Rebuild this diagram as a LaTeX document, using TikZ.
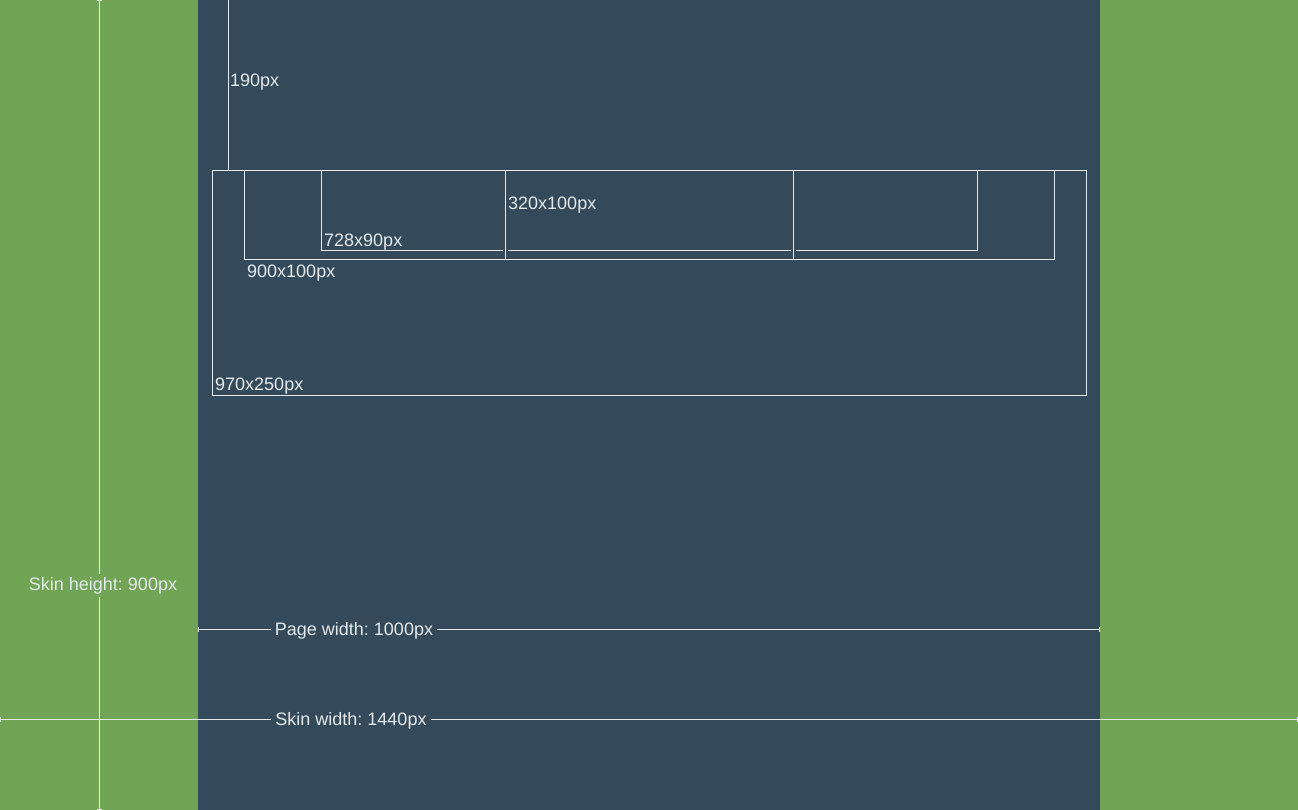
\documentclass[tikz,border=0pt]{standalone}
\usepackage{fontspec}
\setmainfont{Liberation Sans}
\usetikzlibrary{arrows.meta}
\frenchspacing
\definecolor{skin}{RGB}{113,164,84}
\definecolor{page}{RGB}{52,73,89}
\definecolor{ln}{RGB}{228,234,236}
\tikzset{
  guide/.style={draw=ln, line width=1pt},
  dim/.style={guide, {Bar[width=5pt,line width=1pt]}-{Bar[width=5pt,line width=1pt]}},
  dimend/.style={guide, -{Bar[width=5pt,line width=1pt]}},
  lbl/.style={text=ln, font=\fontsize{18}{21}\selectfont, inner sep=0pt, anchor=west},
  dimlbl/.style={text=ln, font=\fontsize{18}{21}\selectfont\frenchspacing, inner xsep=4pt, inner ysep=3pt}
}
\begin{document}
\begin{tikzpicture}[x=1pt,y=-1pt]
\useasboundingbox (0,0) rectangle (1298,810);
\fill[skin] (0,0) rectangle (1298,810);
\fill[page] (198,0) rectangle (1100,810);
% boxes
\draw[guide] (212,171) rectangle (1086,395);
\draw[guide] (244,171) rectangle (1054,260);
\draw[guide] (321,171) rectangle (977,251);
\draw[page, line width=5pt] (505,172) -- (505,259) (793,172) -- (793,259);
\draw[guide] (505,171) rectangle (793,260);
% labels
\node[lbl] (l970) at (215,386) {970x250px};
\node[lbl] (l900) at (247,273) {900x100px};
\node[lbl] (l728) at (324,242) {728x90px};
\node[lbl] (l320) at (508,205) {320x100px};
% 190px
\coordinate (t0) at (228,0);
\coordinate (t1) at (228,171);
\draw[dimend] (t0) -- (t1);
\node[lbl] (l190) at (230,82) {190px};
% page width
\coordinate (p0) at (198,629);
\coordinate (p1) at (1100,629);
\draw[dim] (p0) -- (p1);
\node[dimlbl, fill=page] (lpw) at (354,630.5) {Page width: 1000px};
% skin width
\coordinate (s0) at (0,719);
\coordinate (s1) at (1298,719);
\draw[dim] (s0) -- (s1);
\node[dimlbl, fill=page] (lsw) at (351,720.5) {Skin width: 1440px};
% skin height
\coordinate (h0) at (99,0);
\coordinate (h1) at (99,810);
\draw[dim] (h0) -- (h1);
\node[dimlbl, fill=skin] (lsh) at (103,585.5) {Skin height: 900px};
\end{tikzpicture}
\end{document}
